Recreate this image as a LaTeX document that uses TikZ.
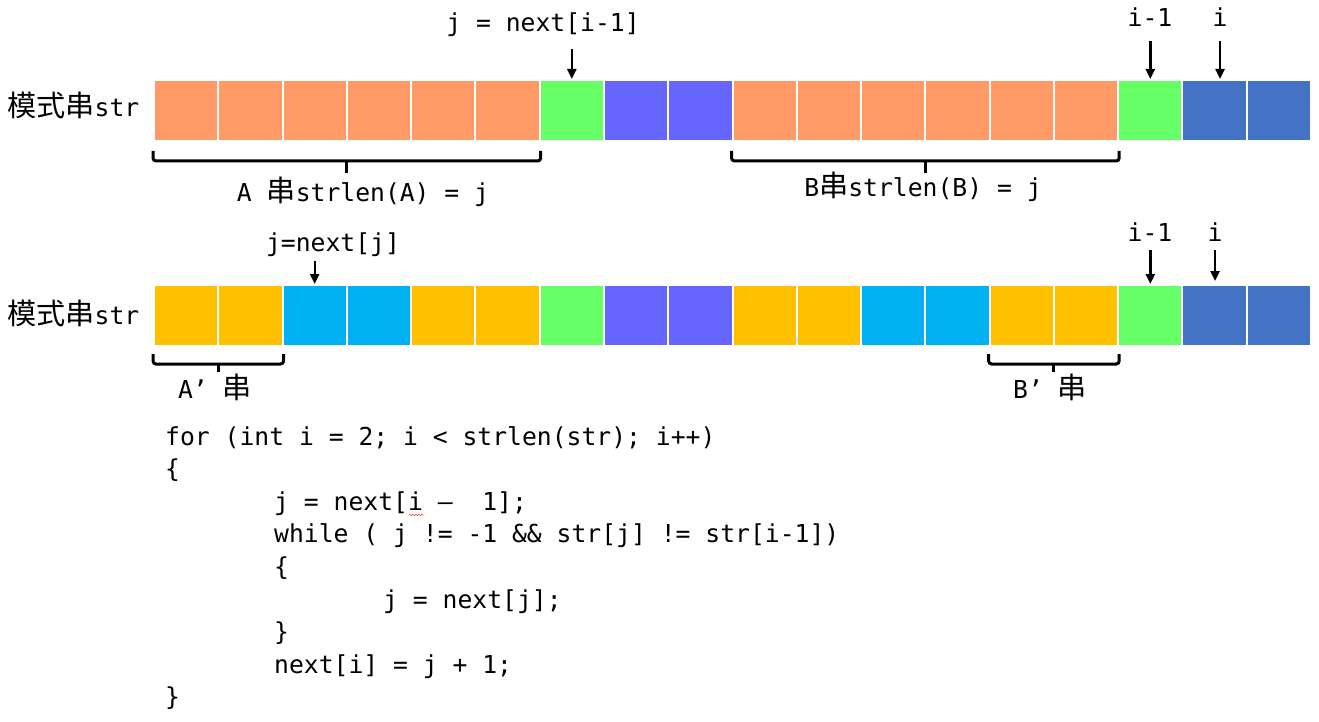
\documentclass[tikz,border=0pt]{standalone}
\usepackage{fontspec}
\setmonofont{DejaVu Sans Mono}
\newfontfamily\cjk[Scale=1.18]{Noto Sans CJK SC}
\usetikzlibrary{arrows.meta,calc,decorations.pathmorphing}

\definecolor{peach}{HTML}{FF9966}
\definecolor{lime}{HTML}{66FF66}
\definecolor{violet}{HTML}{6666FF}
\definecolor{steel}{HTML}{4472C4}
\definecolor{gold}{HTML}{FFC000}
\definecolor{sky}{HTML}{00B0F0}

\tikzset{
  cell/.style={draw=white, line width=2pt, fill=#1, minimum width=64.28pt, minimum height=61pt, inner sep=0pt},
  lbl/.style={inner sep=0pt, text height=18pt, text depth=5pt, font=\ttfamily\frenchspacing\fontsize{24.7pt}{30pt}\selectfont},
  code/.style={lbl, anchor=base west},
  ptr/.style={-{Triangle[length=10pt,width=9pt]}, line width=2.4pt},
  brace/.style={line width=3pt, rounded corners=3pt},
}

\begin{document}
\begin{tikzpicture}[x=1pt, y=-1pt]
	\useasboundingbox (0,0) rectangle (1319,722);
	
	% erste Zeile
	\node[lbl, anchor=west] (name1) at (7,110) {{\cjk 模式串}str};
	\foreach \c [count=\k from 0] in {peach,peach,peach,peach,peach,peach,lime,violet,violet,peach,peach,peach,peach,peach,peach,lime,steel,steel}
		\node[cell=\c] (a\k) at ({154+64.28*(\k+0.5)},110.5) {};
	
	\node[lbl] (jprev) at (543,25) {j = next[i-1]};		% Zeiger j
	\node[lbl] (iprev1) at (1150,20) {i-1};
	\node[lbl] (icur1) at (1220,20) {i};
	\draw[ptr, shorten <=12pt] (jprev.south -| a6.north) -- (a6.north);
	\draw[ptr, shorten <=9pt] (iprev1.south -| a15.north) -- (a15.north);
	\draw[ptr, shorten <=9pt] (icur1.south) -- (icur1.south |- a16.north);
	
	\draw[brace] ([yshift=-9pt]a0.south west) |- ([yshift=-19pt]a5.south east) -- ([yshift=-9pt]a5.south east);
	\draw[brace] ($(a0.south west)!.5!(a5.south east)+(0,19)$) -- ++(0,12);
	\node[lbl] (astr) at (363,195) {A {\cjk 串}strlen(A) = j};
	\draw[brace] ([yshift=-9pt]a9.south west) |- ([yshift=-19pt]a14.south east) -- ([yshift=-9pt]a14.south east);
	\draw[brace] ($(a9.south west)!.5!(a14.south east)+(0,19)$) -- ++(0,12);
	\node[lbl] (bstr) at (923,190) {B{\cjk 串}strlen(B) = j};
	
	% zweite Zeile
	\node[lbl, anchor=west] (name2) at (7,318) {{\cjk 模式串}str};
	\foreach \c [count=\k from 0] in {gold,gold,sky,sky,gold,gold,lime,violet,violet,gold,gold,sky,sky,gold,gold,lime,steel,steel}
		\node[cell=\c] (b\k) at ({154+64.28*(\k+0.5)},315.5) {};
	
	\node[lbl] (jnext) at (333,245) {j=next[j]};
	\node[lbl] (iprev2) at (1150,235) {i-1};
	\node[lbl] (icur2) at (1215,235) {i};
	\draw[ptr, shorten <=4pt] (jnext.south -| b2.north) -- (b2.north);
	\draw[ptr, shorten <=3pt] (iprev2.south -| b15.north) -- (b15.north);
	\draw[ptr, shorten <=3pt, shorten >=3pt] (icur2.south) -- (icur2.south |- b16.north);
	
	\draw[brace] ([yshift=-7pt]b0.south west) |- ([yshift=-17pt]b1.south east) -- ([yshift=-7pt]b1.south east);
	\draw[brace] ($(b0.south west)!.5!(b1.south east)+(0,17)$) -- ++(0,8);
	\node[lbl] (astr2) at (215,392) {A’ {\cjk 串}};
	\draw[brace] ([yshift=-7pt]b13.south west) |- ([yshift=-17pt]b14.south east) -- ([yshift=-7pt]b14.south east);
	\draw[brace] ($(b13.south west)!.5!(b14.south east)+(0,17)$) -- ++(0,8);
	\node[lbl] (bstr2) at (1050,392) {B’ {\cjk 串}};
	
	% Code
	\node[code] (c1) at (165,445) {for (int i = 2; i < strlen(str); i++)};
	\node[code] (c2) at (165,477.6) {\{};
	\node[code] (c3) at (274,510.2) {j = next[i –~~1];};
	\draw[red, decorate, decoration={snake, amplitude=0.7pt, segment length=3pt}] (409,515) -- (424,515);
	\node[code] (c4) at (274,542.8) {while ( j != -1 \&\& str[j] != str[i-1])};
	\node[code] (c5) at (274,575.4) {\{};
	\node[code] (c6) at (383,608) {j = next[j];};
	\node[code] (c7) at (274,640.6) {\}};
	\node[code] (c8) at (274,673.2) {next[i] = j + 1;};
	\node[code] (c9) at (165,705.8) {\}};
\end{tikzpicture}
\end{document}
